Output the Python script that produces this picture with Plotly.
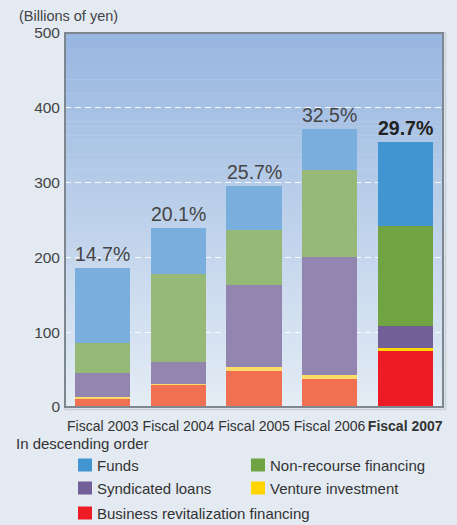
import plotly.graph_objects as go

# ---------------- data ----------------
categories = ["Fiscal 2003", "Fiscal 2004", "Fiscal 2005", "Fiscal 2006", "Fiscal 2007"]
tick_labels = ["Fiscal 2003", "Fiscal 2004", "Fiscal 2005", "Fiscal 2006", "<b>Fiscal 2007</b>"]
business_revitalization = [11, 30.3, 48.5, 37.8, 74.9]
venture_investment = [3, 0.8, 5.4, 5.0, 4.0]
syndicated_loans = [31, 29.5, 109.2, 157.7, 29.4]
non_recourse = [41, 117.6, 73.9, 116.7, 134.1]
funds = [100, 61.1, 58.5, 54.5, 111.9]
pct_labels = ["14.7%", "20.1%", "25.7%", "32.5%", "<b>29.7%</b>"]
y_ticks = [0, 100, 200, 300, 400, 500]

# ---------------- style ----------------
FONT = "Liberation Sans, Arial, sans-serif"
PAGE_BG = "#e3eaf2"
W, H = 457, 525
L, R, T, B = 65, 14, 33, 118
PW, PH = W - L - R, H - T - B

def px(x):
    return (x - L) / PW

def py(y):
    return (T + PH - y) / PH

series = [
    ("Business revitalization financing", business_revitalization, "#f27052", "#ed1c24"),
    ("Venture investment", venture_investment, "#fddc6a", "#ffd400"),
    ("Syndicated loans", syndicated_loans, "#9285b0", "#735f98"),
    ("Non-recourse financing", non_recourse, "#96b978", "#70a442"),
    ("Funds", funds, "#7aaedd", "#4196d2"),
]

fig = go.Figure()
for name, vals, c_old, c_new in series:
    colors = [c_old] * (len(categories) - 1) + [c_new]
    fig.add_trace(go.Bar(
        x=categories, y=vals, name=name, showlegend=False,
        marker=dict(color=colors, line=dict(width=0)),
        hoverinfo="skip",
    ))

totals = [sum(s[1][i] for s in series) for i in range(len(categories))]

shapes = []
# vertical gradient background inside plot area
top_c = (0x97, 0xb6, 0xe0)
bot_c = (0xe4, 0xec, 0xf5)
N = 80
for i in range(N):
    t = i / (N - 1)
    c = tuple(round(top_c[k] + (bot_c[k] - top_c[k]) * t) for k in range(3))
    shapes.append(dict(type="rect", xref="paper", yref="paper",
                       x0=0, x1=1, y0=1 - (i + 1) / N, y1=1 - i / N + 0.001,
                       fillcolor="rgb(%d,%d,%d)" % c, line=dict(width=0), layer="below"))
# frame with a soft shadow
shapes.append(dict(type="rect", xref="paper", yref="paper", x0=0, x1=1 + 2.5 / PW,
                   y0=0 - 2.5 / PH, y1=1, line=dict(color="#c9d0d8", width=1.5),
                   fillcolor="rgba(0,0,0,0)", layer="above"))
shapes.append(dict(type="rect", xref="paper", yref="paper", x0=0, x1=1, y0=0, y1=1,
                   line=dict(color="#7e8790", width=2), fillcolor="rgba(0,0,0,0)",
                   layer="above"))

annotations = []
for cat, tot, lab in zip(categories, totals, pct_labels):
    annotations.append(dict(x=cat, y=tot, xref="x", yref="y", text=lab, showarrow=False,
                            yanchor="bottom", yshift=1,
                            font=dict(family=FONT, size=19.5,
                                      color="#222222" if "<b>" in lab else "#454545")))

annotations.append(dict(x=px(17), y=py(16), xref="paper", yref="paper",
                        text="(Billions of yen)", showarrow=False, xanchor="left",
                        yanchor="middle", font=dict(family=FONT, size=14.5, color="#444444")))
annotations.append(dict(x=px(14), y=py(443), xref="paper", yref="paper",
                        text="In descending order", showarrow=False, xanchor="left",
                        yanchor="middle", font=dict(family=FONT, size=15, color="#333333")))

legend_items = [
    ("Funds", "#4196d2", 78, 465),
    ("Non-recourse financing", "#70a442", 251, 465),
    ("Syndicated loans", "#735f98", 78, 488),
    ("Venture investment", "#ffd400", 251, 488),
    ("Business revitalization financing", "#ed1c24", 78, 513),
]
for text, col, x, y in legend_items:
    shapes.append(dict(type="rect", xref="paper", yref="paper",
                       x0=px(x), x1=px(x + 14), y0=py(y + 6.5), y1=py(y - 6.5),
                       fillcolor=col, line=dict(width=0), layer="above"))
    annotations.append(dict(x=px(x + 17), y=py(y), xref="paper", yref="paper", text=text,
                            showarrow=False, xanchor="left", yanchor="middle",
                            font=dict(family=FONT, size=15, color="#333333")))

fig.update_layout(
    width=W, height=H,
    margin=dict(l=L, r=R, t=T, b=B),
    paper_bgcolor=PAGE_BG, plot_bgcolor="#e4ecf5",
    barmode="stack", bargap=0.27,
    shapes=shapes, annotations=annotations,
    font=dict(family=FONT, color="#444444"),
    xaxis=dict(tickmode="array", tickvals=categories, ticktext=tick_labels,
               tickfont=dict(family=FONT, size=14, color="#333333"),
               showgrid=False, zeroline=False, showline=False, ticks="",
               ticklabelstandoff=9, fixedrange=True),
    yaxis=dict(range=[0, 500], tickvals=y_ticks, tickfont=dict(family=FONT, size=15.5, color="#444444"),
               showgrid=True, gridcolor="rgba(255,255,255,0.9)", gridwidth=1,
               griddash="6px,4px", zeroline=False, showline=False, ticks="",
               ticklabelstandoff=4, fixedrange=True),
)
fig.write_html(
    "out.html",
    config={"displayModeBar": False},
    post_script="document.body.style.margin='0';document.body.style.background='%s';" % PAGE_BG,
)
